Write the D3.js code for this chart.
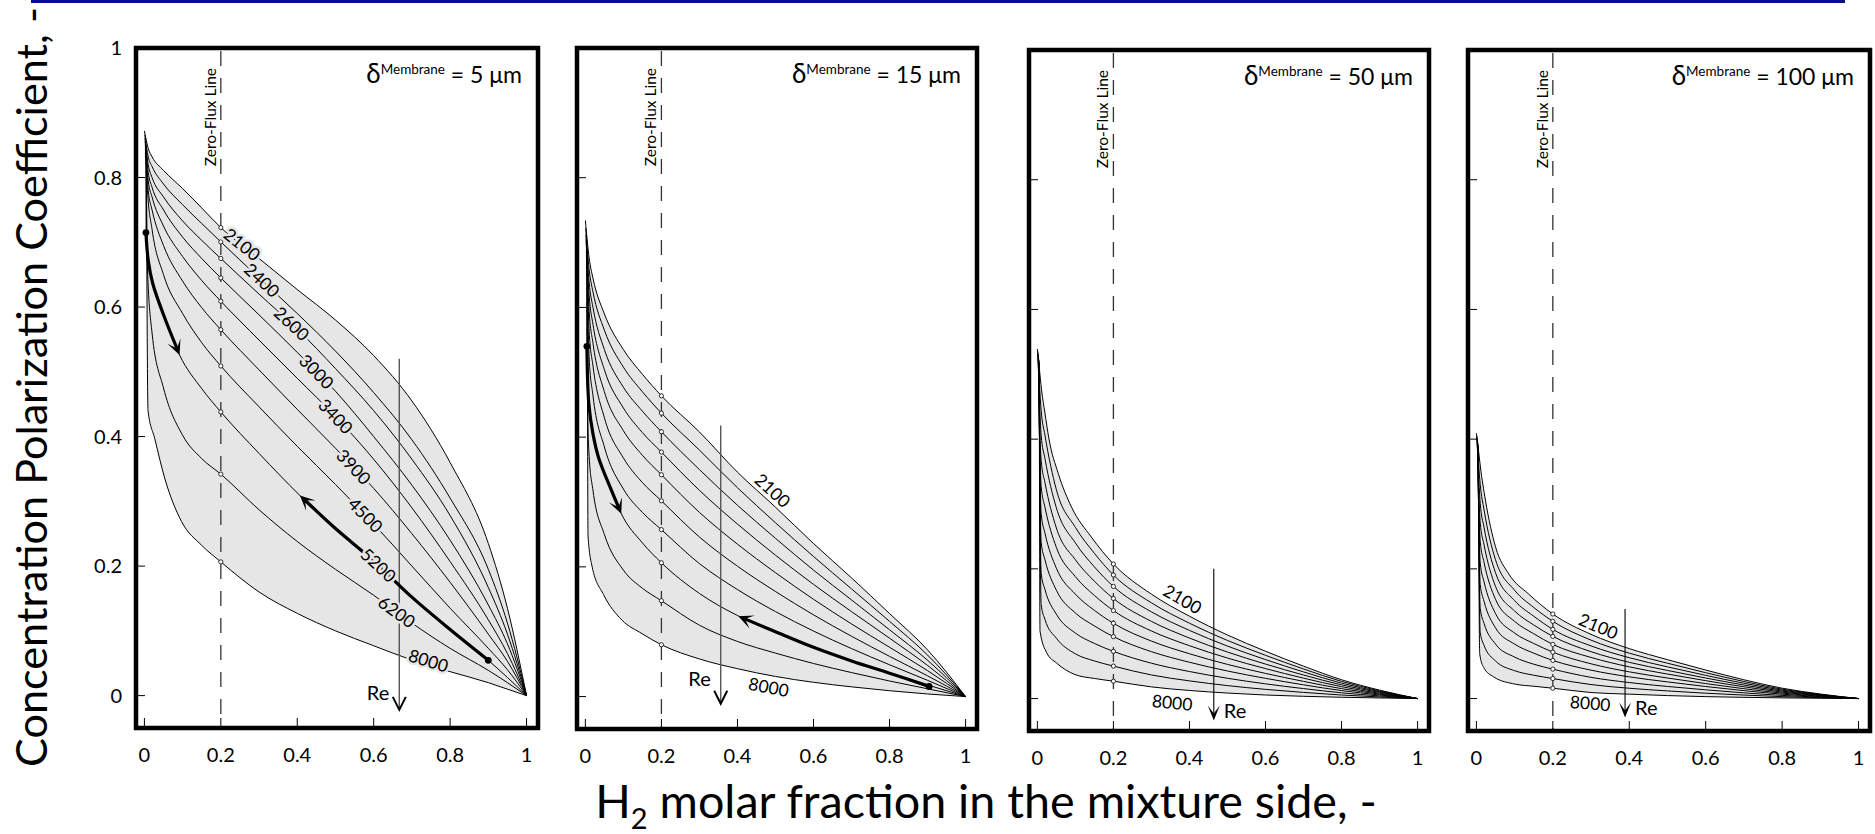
<!DOCTYPE html>
<html>
<head>
<meta charset="utf-8">
<title>Concentration polarization coefficient</title>
<script src="https://cdn.jsdelivr.net/npm/d3@7/dist/d3.min.js"></script>
<style>
html,body{margin:0;padding:0;background:#ffffff;}
svg{display:block;}
text{font-family:Lato,"Noto Sans","DejaVu Sans",sans-serif;fill:#000;}
</style>
</head>
<body>
<svg id="chart" width="1875" height="834" viewBox="0 0 1875 834"></svg>
<script>
// ---------------- DATA ----------------
const reValues = [2100, 2400, 2600, 3000, 3400, 3900, 4500, 5200, 6200, 8000];
const membraneThickness = [5, 15, 50, 100];
const xTicks = [0, 0.2, 0.4, 0.6, 0.8, 1];
const xTickLabels = ["0", "0.2", "0.4", "0.6", "0.8", "1"];
const yTicks = [0, 0.2, 0.4, 0.6, 0.8, 1];
const yTickLabels = ["0", "0.2", "0.4", "0.6", "0.8", "1"];
const zeroFluxX = 0.2;
const xTitle = ["H", "2", " molar fraction in the mixture side, -"];
const yTitle = "Concentration Polarization Coefficient, -";

// curves: one array of [x, y] per Re value (2100 ... 8000)
const panel1Curves = [
 [[0,0.872],[0.01,0.845],[0.02,0.832],[0.05,0.811],[0.1,0.783],[0.15,0.753],[0.2,0.7226],[0.3,0.675],[0.4,0.627],[0.5,0.58],[0.6,0.525],[0.7,0.455],[0.8,0.36],[0.9,0.235],[0.95,0.135],[1,0]],
 [[0.001,0.866],[0.01,0.832],[0.02,0.817],[0.05,0.79],[0.1,0.758],[0.15,0.729],[0.2,0.7006],[0.3,0.645],[0.4,0.59],[0.5,0.532],[0.6,0.468],[0.7,0.395],[0.8,0.305],[0.9,0.195],[0.95,0.112],[1,0]],
 [[0.0015,0.861],[0.01,0.82],[0.02,0.80],[0.05,0.77],[0.1,0.733],[0.15,0.703],[0.2,0.675],[0.3,0.62],[0.4,0.566],[0.5,0.505],[0.6,0.44],[0.7,0.365],[0.8,0.278],[0.9,0.167],[0.95,0.095],[1,0]],
 [[0.002,0.856],[0.01,0.808],[0.02,0.785],[0.05,0.75],[0.1,0.708],[0.15,0.675],[0.2,0.645],[0.3,0.588],[0.4,0.53],[0.5,0.47],[0.6,0.40],[0.7,0.325],[0.8,0.24],[0.9,0.14],[0.95,0.08],[1,0]],
 [[0.0025,0.851],[0.01,0.795],[0.02,0.77],[0.05,0.725],[0.1,0.678],[0.15,0.641],[0.2,0.609],[0.3,0.549],[0.4,0.49],[0.5,0.431],[0.6,0.365],[0.7,0.29],[0.8,0.207],[0.9,0.117],[0.95,0.065],[1,0]],
 [[0.003,0.846],[0.01,0.78],[0.02,0.75],[0.05,0.695],[0.1,0.64],[0.15,0.599],[0.2,0.565],[0.3,0.503],[0.4,0.442],[0.5,0.382],[0.6,0.32],[0.7,0.25],[0.8,0.175],[0.9,0.095],[0.95,0.053],[1,0]],
 [[0.0035,0.842],[0.008,0.78],[0.02,0.72],[0.05,0.65],[0.1,0.59],[0.15,0.545],[0.2,0.509],[0.3,0.446],[0.4,0.385],[0.5,0.326],[0.6,0.265],[0.7,0.20],[0.8,0.135],[0.9,0.073],[0.95,0.04],[1,0]],
 [[0.004,0.838],[0.0045,0.715],[0.01,0.672],[0.022,0.636],[0.052,0.585],[0.092,0.526],[0.15,0.474],[0.2,0.438],[0.3,0.374],[0.407,0.309],[0.5,0.258],[0.6,0.208],[0.7,0.152],[0.8,0.102],[0.9,0.0545],[0.95,0.028],[1,0]],
 [[0.0045,0.834],[0.008,0.66],[0.02,0.56],[0.05,0.475],[0.1,0.402],[0.15,0.366],[0.2,0.342],[0.3,0.287],[0.4,0.238],[0.5,0.195],[0.6,0.155],[0.7,0.112],[0.8,0.073],[0.9,0.039],[0.95,0.02],[1,0]],
 [[0.005,0.83],[0.0095,0.44],[0.027,0.397],[0.053,0.336],[0.097,0.269],[0.15,0.232],[0.2,0.2065],[0.3,0.16],[0.4,0.127],[0.5,0.1],[0.6,0.077],[0.7,0.055],[0.8,0.037],[0.9,0.02],[0.95,0.01],[1,0]]
];
const panel2Curves = [
 [[0,0.734],[0.01,0.676],[0.02,0.645],[0.05,0.59],[0.1,0.535],[0.15,0.497],[0.2,0.4637],[0.3,0.408],[0.4,0.346],[0.5,0.292],[0.6,0.236],[0.7,0.183],[0.8,0.128],[0.9,0.072],[1,0]],
 [[0.001,0.722],[0.01,0.658],[0.02,0.624],[0.05,0.565],[0.1,0.508],[0.15,0.47],[0.2,0.437],[0.3,0.38],[0.4,0.322],[0.5,0.268],[0.6,0.216],[0.7,0.166],[0.8,0.116],[0.9,0.064],[1,0]],
 [[0.0015,0.712],[0.01,0.638],[0.02,0.60],[0.05,0.535],[0.1,0.477],[0.15,0.44],[0.2,0.4083],[0.3,0.35],[0.4,0.295],[0.5,0.244],[0.6,0.195],[0.7,0.149],[0.8,0.103],[0.9,0.056],[1,0]],
 [[0.002,0.705],[0.01,0.618],[0.02,0.574],[0.05,0.504],[0.1,0.445],[0.15,0.407],[0.2,0.377],[0.3,0.318],[0.4,0.266],[0.5,0.218],[0.6,0.173],[0.7,0.131],[0.8,0.09],[0.9,0.048],[1,0]],
 [[0.0025,0.70],[0.01,0.594],[0.02,0.545],[0.05,0.47],[0.1,0.41],[0.15,0.372],[0.2,0.342],[0.3,0.284],[0.4,0.235],[0.5,0.191],[0.6,0.15],[0.7,0.112],[0.8,0.076],[0.9,0.04],[1,0]],
 [[0.003,0.695],[0.01,0.563],[0.02,0.51],[0.05,0.43],[0.1,0.368],[0.15,0.33],[0.2,0.3018],[0.3,0.246],[0.4,0.201],[0.5,0.162],[0.6,0.126],[0.7,0.093],[0.8,0.062],[0.9,0.032],[1,0]],
 [[0.0035,0.69],[0.01,0.522],[0.02,0.464],[0.05,0.385],[0.1,0.32],[0.15,0.284],[0.2,0.2574],[0.3,0.205],[0.4,0.165],[0.5,0.131],[0.6,0.101],[0.7,0.074],[0.8,0.049],[0.9,0.025],[1,0]],
 [[0.0035,0.685],[0.004,0.54],[0.009,0.452],[0.02,0.405],[0.035,0.368],[0.07,0.316],[0.0945,0.282],[0.15,0.237],[0.2,0.2063],[0.3,0.159],[0.4,0.125],[0.5,0.1],[0.6,0.076],[0.7,0.055],[0.8,0.036],[0.9,0.018],[1,0]],
 [[0.0045,0.68],[0.006,0.44],[0.01,0.37],[0.02,0.318],[0.05,0.25],[0.1,0.195],[0.15,0.167],[0.2,0.1478],[0.3,0.11],[0.4,0.085],[0.5,0.067],[0.6,0.051],[0.7,0.037],[0.8,0.024],[0.9,0.012],[1,0]],
 [[0.005,0.675],[0.007,0.248],[0.0175,0.201],[0.048,0.157],[0.096,0.118],[0.149,0.097],[0.2,0.0799],[0.3,0.058],[0.4,0.043],[0.5,0.031],[0.6,0.022],[0.7,0.015],[0.8,0.009],[0.9,0.004],[1,0]]
];
const panel3Curves = [
 [[0,0.539],[0.005,0.51],[0.011,0.476],[0.02,0.44],[0.03,0.402],[0.055,0.347],[0.09,0.295],[0.142,0.249],[0.2,0.2075],[0.3,0.161],[0.4,0.127],[0.5,0.098],[0.6,0.073],[0.7,0.05],[0.8,0.029],[0.9,0.013],[1,0]],
 [[0.001,0.535],[0.01,0.444],[0.02,0.406],[0.05,0.322],[0.1,0.264],[0.15,0.224],[0.2,0.1905],[0.3,0.1476],[0.4,0.1162],[0.5,0.0896],[0.6,0.0667],[0.7,0.0456],[0.8,0.0265],[0.9,0.0119],[1,0]],
 [[0.0015,0.532],[0.01,0.406],[0.02,0.37],[0.05,0.294],[0.1,0.24],[0.15,0.203],[0.2,0.1729],[0.3,0.1337],[0.4,0.1051],[0.5,0.0809],[0.6,0.0601],[0.7,0.0411],[0.8,0.0238],[0.9,0.0107],[1,0]],
 [[0.002,0.53],[0.01,0.367],[0.02,0.333],[0.05,0.263],[0.1,0.214],[0.15,0.181],[0.2,0.1543],[0.3,0.119],[0.4,0.0933],[0.5,0.0717],[0.6,0.0532],[0.7,0.0363],[0.8,0.0211],[0.9,0.0095],[1,0]],
 [[0.0025,0.528],[0.01,0.327],[0.02,0.295],[0.05,0.233],[0.1,0.188],[0.15,0.159],[0.2,0.1357],[0.3,0.1042],[0.4,0.0815],[0.5,0.0625],[0.6,0.0462],[0.7,0.0315],[0.8,0.0183],[0.9,0.0082],[1,0]],
 [[0.003,0.526],[0.01,0.285],[0.02,0.255],[0.05,0.201],[0.1,0.161],[0.15,0.136],[0.2,0.1161],[0.3,0.0886],[0.4,0.0691],[0.5,0.0527],[0.6,0.0388],[0.7,0.0265],[0.8,0.0153],[0.9,0.0069],[1,0]],
 [[0.0035,0.524],[0.01,0.241],[0.02,0.214],[0.05,0.167],[0.1,0.132],[0.15,0.112],[0.2,0.0955],[0.3,0.0723],[0.4,0.056],[0.5,0.0425],[0.6,0.0312],[0.7,0.0212],[0.8,0.0123],[0.9,0.0056],[1,0]],
 [[0.004,0.522],[0.01,0.193],[0.02,0.168],[0.05,0.13],[0.1,0.101],[0.15,0.085],[0.2,0.0728],[0.3,0.0545],[0.4,0.0417],[0.5,0.0313],[0.6,0.0227],[0.7,0.0154],[0.8,0.0089],[0.9,0.0041],[1,0]],
 [[0.0045,0.52],[0.01,0.145],[0.02,0.122],[0.05,0.093],[0.1,0.069],[0.15,0.058],[0.2,0.0501],[0.3,0.0364],[0.4,0.0273],[0.5,0.02],[0.6,0.0142],[0.7,0.0095],[0.8,0.0055],[0.9,0.0025],[1,0]],
 [[0.005,0.518],[0.007,0.104],[0.0245,0.0707],[0.05,0.055],[0.099,0.037],[0.15,0.031],[0.2,0.0268],[0.3,0.018],[0.4,0.0125],[0.5,0.0085],[0.6,0.0055],[0.7,0.0035],[0.8,0.002],[0.9,0.001],[1,0]]
];
const panel4Curves = [
 [[0,0.409],[0.005,0.385],[0.0105,0.357],[0.0236,0.306],[0.05,0.234],[0.085,0.192],[0.137,0.161],[0.2,0.1304],[0.3,0.099],[0.4,0.077],[0.5,0.06],[0.6,0.044],[0.7,0.029],[0.8,0.016],[0.9,0.007],[1,0]],
 [[0.001,0.405],[0.01,0.33],[0.02,0.291],[0.05,0.214],[0.1,0.167],[0.15,0.1405],[0.2,0.1191],[0.3,0.0901],[0.4,0.07],[0.5,0.0545],[0.6,0.0399],[0.7,0.0263],[0.8,0.0145],[0.9,0.0064],[1,0]],
 [[0.0015,0.402],[0.01,0.301],[0.02,0.264],[0.05,0.194],[0.1,0.151],[0.15,0.127],[0.2,0.1067],[0.3,0.0812],[0.4,0.063],[0.5,0.0489],[0.6,0.0358],[0.7,0.0236],[0.8,0.013],[0.9,0.0057],[1,0]],
 [[0.002,0.40],[0.01,0.271],[0.02,0.237],[0.05,0.173],[0.1,0.135],[0.15,0.1135],[0.2,0.0959],[0.3,0.0723],[0.4,0.0559],[0.5,0.0434],[0.6,0.0317],[0.7,0.0209],[0.8,0.0115],[0.9,0.0051],[1,0]],
 [[0.0025,0.398],[0.01,0.242],[0.02,0.21],[0.05,0.153],[0.1,0.119],[0.15,0.1],[0.2,0.0835],[0.3,0.0634],[0.4,0.0489],[0.5,0.0378],[0.6,0.0276],[0.7,0.0182],[0.8,0.01],[0.9,0.0044],[1,0]],
 [[0.003,0.396],[0.01,0.209],[0.02,0.18],[0.05,0.131],[0.1,0.101],[0.15,0.085],[0.2,0.0716],[0.3,0.0536],[0.4,0.0412],[0.5,0.0317],[0.6,0.0231],[0.7,0.0152],[0.8,0.0084],[0.9,0.0037],[1,0]],
 [[0.0035,0.394],[0.01,0.176],[0.02,0.15],[0.05,0.109],[0.1,0.084],[0.15,0.07],[0.2,0.0588],[0.3,0.0438],[0.4,0.0335],[0.5,0.0257],[0.6,0.0186],[0.7,0.0122],[0.8,0.0068],[0.9,0.003],[1,0]],
 [[0.004,0.392],[0.01,0.139],[0.02,0.116],[0.05,0.084],[0.1,0.064],[0.15,0.053],[0.2,0.0454],[0.3,0.0327],[0.4,0.0247],[0.5,0.0187],[0.6,0.0135],[0.7,0.0088],[0.8,0.0049],[0.9,0.0022],[1,0]],
 [[0.0045,0.39],[0.01,0.102],[0.02,0.082],[0.05,0.058],[0.1,0.043],[0.15,0.036],[0.2,0.0309],[0.3,0.0216],[0.4,0.0159],[0.5,0.0118],[0.6,0.0083],[0.7,0.0054],[0.8,0.003],[0.9,0.0013],[1,0]],
 [[0.005,0.388],[0.0087,0.0686],[0.019,0.048],[0.045,0.0335],[0.102,0.0222],[0.15,0.019],[0.2,0.016],[0.3,0.0093],[0.4,0.0068],[0.5,0.0046],[0.6,0.003],[0.7,0.0019],[0.8,0.0011],[0.9,0.0005],[1,0]]
];

// curve label placement (index into reValues, x position along curve)
const panel1LabelIdx = [0, 1, 2, 3, 4, 5, 6, 7, 8, 9];
const panel1LabelX = [0.255, 0.307, 0.385, 0.45, 0.5, 0.547, 0.578, 0.612, 0.66, 0.74];
const panel2LabelIdx = [0, 9];
const panel2LabelX = [0.474, 0.488];
const panel3LabelIdx = [0, 9];
const panel3LabelX = [0.367, 0.358];
const panel4LabelIdx = [0, 9];
const panel4LabelX = [0.309, 0.30];

// "Re" direction arrows: x, top y, bottom y
const reArrowX = [0.667, 0.356, 0.464, 0.389];
const reArrowTop = [0.52, 0.418, 0.2, 0.138];
const reArrowBottom = [-0.022, -0.011, -0.034, -0.029];
const reLabelY = [-0.007, 0.016, -0.03, -0.025];

// thick trajectory arrows (along Re = 5200)
const panel1ArrowA = [[0.004,0.715],[0.01,0.672],[0.022,0.636],[0.052,0.585],[0.092,0.526]];
const panel1ArrowB = [[0.9,0.0545],[0.8,0.102],[0.7,0.152],[0.6,0.208],[0.5,0.258],[0.407,0.309]];
const panel2ArrowA = [[0.004,0.54],[0.009,0.452],[0.02,0.405],[0.035,0.368],[0.07,0.316],[0.0945,0.282]];
const panel2ArrowB = [[0.904,0.0157],[0.8,0.036],[0.7,0.055],[0.6,0.076],[0.5,0.1],[0.4025,0.124]];

// ---------------- LAYOUT ----------------
const svg = d3.select("#chart");
const frames = [
  {l:136, r:538, t:48, b:728},
  {l:577, r:977, t:48, b:729},
  {l:1029, r:1429, t:50, b:731},
  {l:1468, r:1870, t:50, b:731}
];
const xDomain = [-0.022, 1.03];
const yDomain = [-0.05, 1];
const fillGray = "#e6e6e6";

const panels = [
  {curves: panel1Curves, labIdx: panel1LabelIdx, labX: panel1LabelX, labOff: [0,0,0,0,0,0,0,0,0,4], halo: true,
   arrows: [panel1ArrowA, panel1ArrowB], reSide: "left", bold: false},
  {curves: panel2Curves, labIdx: panel2LabelIdx, labX: panel2LabelX, labOff: [10,-12], halo: false,
   arrows: [panel2ArrowA, panel2ArrowB], reSide: "left", bold: false},
  {curves: panel3Curves, labIdx: panel3LabelIdx, labX: panel3LabelX, labOff: [11,-14], halo: false,
   arrows: [], reSide: "right", bold: true},
  {curves: panel4Curves, labIdx: panel4LabelIdx, labX: panel4LabelX, labOff: [10,-11], halo: false,
   arrows: [], reSide: "right", bold: true}
];

function interp(c, xv){
  for (let i = 0; i < c.length - 1; i++) {
    if (xv >= c[i][0] && xv <= c[i+1][0]) {
      const t = (xv - c[i][0]) / (c[i+1][0] - c[i][0]);
      return c[i][1] + t * (c[i+1][1] - c[i][1]);
    }
  }
  return c[c.length-1][1];
}

function arrowHead(g, tip, from, o){
  const ang = Math.atan2(tip[1]-from[1], tip[0]-from[0]) * 180 / Math.PI;
  const tr = `translate(${tip[0]},${tip[1]}) rotate(${ang})`;
  if (o.type === "open") {
    g.append("path").attr("d", `M${-o.len},${-o.w/2}L0,0L${-o.len},${o.w/2}`)
      .attr("transform", tr).attr("fill","none").attr("stroke", o.color)
      .attr("stroke-width", o.sw).attr("stroke-linejoin","miter");
  } else {
    g.append("path").attr("d", `M0,0L${-o.len},${-o.w/2}L${-o.notch},0L${-o.len},${o.w/2}Z`)
      .attr("transform", tr).attr("fill", o.color);
  }
}

// top blue rule
svg.append("rect").attr("x", 31).attr("y", 0).attr("width", 1814).attr("height", 3).attr("fill", "#0c0c8a");

panels.forEach((p, pi) => {
  const f = frames[pi];
  const xs = d3.scaleLinear().domain(xDomain).range([f.l, f.r]);
  const ys = d3.scaleLinear().domain(yDomain).range([f.b, f.t]);
  const g = svg.append("g").attr("class", "panel" + (pi+1));
  const line = d3.line().x(d => xs(d[0])).y(d => ys(d[1])).curve(d3.curveMonotoneX);
  const topC = p.curves[0], botC = p.curves[p.curves.length-1];

  // shaded band between Re=2100 and Re=8000
  g.append("path")
    .attr("d", `M${xs(topC[0][0])},${ys(0)}` + line(topC).replace(/^M/, "L") + "Z")
    .attr("fill", fillGray);
  g.append("path")
    .attr("d", `M${xs(-0.012)},${ys(botC[0][1])}` + line(botC).replace(/^M/, "L") +
               `L${xs(1.006)},${ys(-0.012)}L${xs(-0.012)},${ys(-0.012)}Z`)
    .attr("fill", "#ffffff");

  // zero-flux dashed line
  g.append("line").attr("x1", xs(zeroFluxX)).attr("x2", xs(zeroFluxX))
    .attr("y1", f.t + 3).attr("y2", f.b - 2)
    .attr("stroke", "#333").attr("stroke-width", 1.3).attr("stroke-dasharray", "15,12");

  // curves
  g.selectAll("path.curve").data(p.curves).enter().append("path")
    .attr("class", "curve").attr("d", d => line(d))
    .attr("fill", "none").attr("stroke", "#000").attr("stroke-width", 1);

  // Re direction arrow
  const rx = xs(reArrowX[pi]);
  const rTop = ys(reArrowTop[pi]), rBot = ys(reArrowBottom[pi]);
  g.append("line").attr("x1", rx).attr("x2", rx).attr("y1", rTop).attr("y2", rBot - (p.bold ? 6 : 1))
    .attr("stroke", p.bold ? "#000" : "#555").attr("stroke-width", p.bold ? 1.1 : 1.4);
  if (p.bold) arrowHead(g, [rx, rBot], [rx, rBot - 10], {type:"fill", len:15, w:12, notch:7, color:"#000"});
  else arrowHead(g, [rx, rBot], [rx, rBot - 10], {type:"open", len:13, w:13, sw:2, color:"#000"});
  g.append("text").text("Re")
    .attr("x", rx + (p.reSide === "left" ? -10 : 10)).attr("y", ys(reLabelY[pi]))
    .attr("text-anchor", p.reSide === "left" ? "end" : "start")
    .attr("font-size", 20);

  // thick trajectory arrows
  const aLine = d3.line().x(d => xs(d[0])).y(d => ys(d[1])).curve(d3.curveCatmullRom);
  p.arrows.forEach(a => {
    const pts = a.map(d => [xs(d[0]), ys(d[1])]);
    const n = pts.length;
    const tip = pts[n-1], prev = pts[n-2];
    const dx = tip[0]-prev[0], dy = tip[1]-prev[1], dl = Math.hypot(dx, dy);
    const shortEnd = [tip[0] - 7*dx/dl, tip[1] - 7*dy/dl];
    const drawn = a.slice(0, n-1).concat([[xs.invert(shortEnd[0]), ys.invert(shortEnd[1])]]);
    g.append("path").attr("d", aLine(drawn)).attr("fill", "none")
      .attr("stroke", "#000").attr("stroke-width", 3.2);
    arrowHead(g, tip, prev, {type:"fill", len:15, w:14, notch:7, color:"#000"});
    g.append("circle").attr("cx", pts[0][0]).attr("cy", pts[0][1]).attr("r", 3.4).attr("fill", "#000");
  });

  // zero-flux markers
  p.curves.forEach(c => {
    g.append("circle").attr("cx", xs(zeroFluxX)).attr("cy", ys(interp(c, zeroFluxX)))
      .attr("r", 2.1).attr("fill", "#fff").attr("stroke", "#000").attr("stroke-width", 0.8);
  });

  // curve labels
  p.labIdx.forEach((ci, k) => {
    const c = p.curves[ci];
    const lx = p.labX[k];
    const x0 = xs(lx - 0.02), y0 = ys(interp(c, lx - 0.02));
    const x1 = xs(lx + 0.02), y1 = ys(interp(c, lx + 0.02));
    const th = Math.atan2(y1 - y0, x1 - x0);
    const off = p.labOff[k];
    const cx = xs(lx) + off * Math.sin(th);
    const cy = ys(interp(c, lx)) - off * Math.cos(th);
    const t = g.append("text").text(reValues[ci])
      .attr("transform", `translate(${cx},${cy}) rotate(${th*180/Math.PI})`)
      .attr("text-anchor", "middle").attr("dy", "0.35em").attr("font-size", 17.5);
    if (p.halo) t.attr("stroke", fillGray).attr("stroke-width", 5).attr("paint-order", "stroke").attr("stroke-linejoin", "round");
  });

  // Zero-Flux Line caption
  g.append("text").text("Zero-Flux Line")
    .attr("transform", `translate(${xs(zeroFluxX) - 5},${f.t + 20}) rotate(-90)`)
    .attr("text-anchor", "end").attr("font-size", 15.5);

  // membrane thickness caption
  const dt = g.append("text").attr("x", f.r - 16).attr("y", f.t + 35).attr("text-anchor", "end");
  dt.append("tspan").text("δ").attr("font-size", 26);
  dt.append("tspan").text("Membrane").attr("font-size", 13.5).attr("dy", -9);
  dt.append("tspan").text(` = ${membraneThickness[pi]} μm`).attr("font-size", 23).attr("dy", 9);

  // frame
  g.append("rect").attr("x", f.l).attr("y", f.t).attr("width", f.r - f.l).attr("height", f.b - f.t)
    .attr("fill", "none").attr("stroke", "#000").attr("stroke-width", 4.5);

  // ticks (inside)
  yTicks.forEach((v, i) => {
    g.append("line").attr("x1", f.l).attr("x2", f.l + 9).attr("y1", ys(v)).attr("y2", ys(v))
      .attr("stroke", "#000").attr("stroke-width", 1);
    if (pi === 0) {
      g.append("text").text(yTickLabels[i]).attr("x", f.l - 14).attr("y", ys(v))
        .attr("dy", "0.36em").attr("text-anchor", "end").attr("font-size", 20);
    }
  });
  xTicks.forEach((v, i) => {
    g.append("line").attr("x1", xs(v)).attr("x2", xs(v)).attr("y1", f.b).attr("y2", f.b - 10)
      .attr("stroke", "#000").attr("stroke-width", 1);
    g.append("text").text(xTickLabels[i]).attr("x", xs(v)).attr("y", f.b + 34)
      .attr("text-anchor", "middle").attr("font-size", 20);
  });
});

// axis titles (font size fitted to the reference width)
function buildXTitle(F){
  svg.select("#xtitle").remove();
  const t = svg.append("text").attr("id", "xtitle").attr("x", 986).attr("y", 818)
    .attr("text-anchor", "middle").attr("font-size", F);
  t.append("tspan").text(xTitle[0]);
  t.append("tspan").text(xTitle[1]).attr("font-size", F * 0.62).attr("dy", F * 0.24);
  t.append("tspan").text(xTitle[2]).attr("dy", -F * 0.24);
  return t;
}
let xt = buildXTitle(42);
let w = xt.node().getComputedTextLength();
buildXTitle(42 * 782 / w);

const yt = svg.append("text").text(yTitle)
  .attr("transform", "translate(47,387) rotate(-90)")
  .attr("text-anchor", "middle").attr("font-size", 42);
const wy = yt.node().getComputedTextLength();
yt.attr("font-size", 42 * 760 / wy);
</script>
</body>
</html>
